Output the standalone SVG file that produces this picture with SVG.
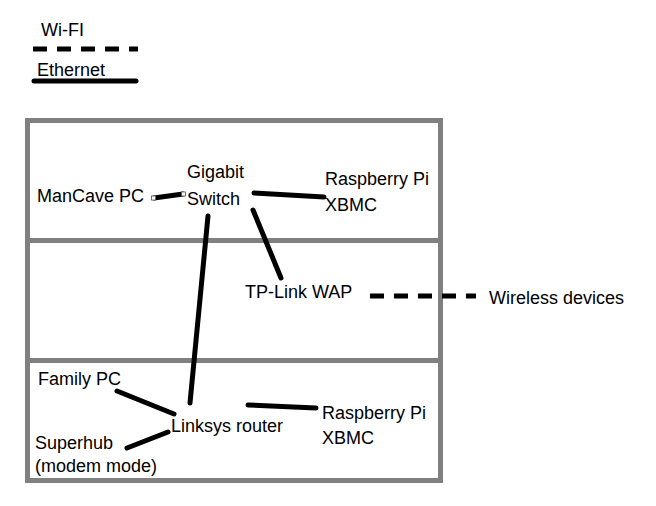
<svg xmlns="http://www.w3.org/2000/svg" width="656" height="506" viewBox="0 0 656 506">
<style>
text{font-family:"Liberation Sans",Arial,sans-serif;font-size:18px;fill:#000}
.box{fill:none;stroke:#808080;stroke-width:5}
.eth{stroke:#000;stroke-width:5;stroke-linecap:round;fill:none}
.wifi{stroke:#000;stroke-width:5;stroke-dasharray:14 10;fill:none}
.h{fill:#fff;stroke:#555;stroke-width:0.8}
</style>
<rect width="656" height="506" fill="#fff"/>
<g id="legend">
<text x="41" y="36">Wi-FI</text>
<line class="wifi" x1="33" y1="49" x2="138" y2="49" stroke-dasharray="14 10 14 10 14 10 14 10 10"/>
<text x="37" y="76">Ethernet</text>
<line class="eth" x1="34" y1="81" x2="136" y2="81"/>
</g>
<g id="building">
<rect class="box" x="27.5" y="120.5" width="413" height="360"/>
<line class="box" x1="27.5" y1="240.5" x2="440.5" y2="240.5"/>
<line class="box" x1="27.5" y1="360.5" x2="440.5" y2="360.5"/>
</g>
<g id="connectors">
<line class="eth" x1="154" y1="198" x2="183" y2="194"/>
<rect class="h" x="151.5" y="196" width="4" height="4"/>
<rect class="h" x="181.5" y="192" width="4" height="4"/>
<line class="eth" x1="254" y1="193" x2="324" y2="197"/>
<line class="eth" x1="253" y1="210" x2="281" y2="278"/>
<line class="eth" x1="208" y1="216" x2="190" y2="403"/>
<line class="eth" x1="117" y1="391" x2="174" y2="414"/>
<line class="eth" x1="127" y1="448" x2="168" y2="432"/>
<line class="eth" x1="248" y1="405" x2="316" y2="408"/>
<line class="wifi" x1="370" y1="296" x2="476" y2="296" stroke-dasharray="15 8"/>
</g>
<g id="mancave-pc"><text x="37" y="202">ManCave PC</text></g>
<g id="gigabit-switch"><text x="187" y="178">Gigabit</text><text x="187" y="205">Switch</text></g>
<g id="rpi-top"><text x="325" y="185">Raspberry Pi</text><text x="325" y="211">XBMC</text></g>
<g id="tp-link-wap"><text x="245" y="298">TP-Link WAP</text></g>
<g id="wireless-devices"><text x="489" y="304">Wireless devices</text></g>
<g id="family-pc"><text x="38" y="385">Family PC</text></g>
<g id="linksys-router"><text x="171" y="432">Linksys router</text></g>
<g id="rpi-bottom"><text x="322" y="419">Raspberry Pi</text><text x="322" y="444">XBMC</text></g>
<g id="superhub"><text x="35" y="449">Superhub</text><text x="35" y="472">(modem mode)</text></g>
</svg>
